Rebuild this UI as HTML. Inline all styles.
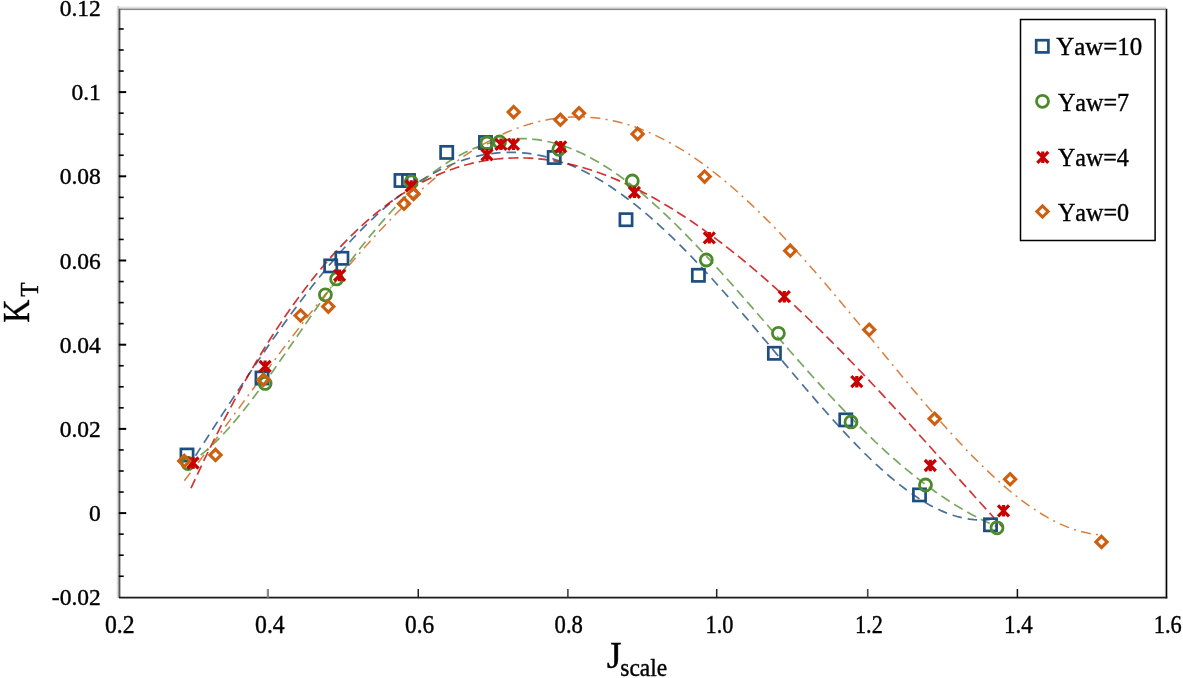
<!DOCTYPE html>
<html><head><meta charset="utf-8"><style>
html,body{margin:0;padding:0;background:#fff;width:1183px;height:678px;overflow:hidden}
svg{display:block;filter:blur(0.6px)}
text{font-family:"Liberation Serif",serif;font-kerning:none;fill:#000;stroke:#000;stroke-width:0.4px}
</style></head><body>
<svg width="1183" height="678" viewBox="0 0 1183 678">
<rect width="1183" height="678" fill="#fff"/>
<defs><linearGradient id="gl" x1="0" x2="1" y1="0" y2="0"><stop offset="0" stop-color="#fff"/><stop offset="1" stop-color="#b4b4b4"/></linearGradient><linearGradient id="gt" x1="0" x2="0" y1="0" y2="1"><stop offset="0" stop-color="#fff"/><stop offset="1" stop-color="#c4c4c4"/></linearGradient></defs>
<rect x="116" y="6" width="3.2" height="592" fill="url(#gl)"/>
<rect x="119" y="6" width="1047" height="3" fill="url(#gt)"/>
<rect x="119" y="8.8" width="1047.5" height="1.3" fill="#8a8a8a"/>
<rect x="118.6" y="8.8" width="1.8" height="589" fill="#5a5a5a"/>
<rect x="1165.7" y="8.8" width="1.6" height="589.5" fill="#000"/>
<rect x="1164.9" y="8.8" width="0.8" height="589.5" fill="#999"/>
<rect x="119" y="596.7" width="1048.3" height="1.8" fill="#1e1e1e"/>
<line x1="118.8" y1="576.25" x2="123.7" y2="576.25" stroke="#000" stroke-width="1.6"/>
<line x1="118.8" y1="555.20" x2="123.7" y2="555.20" stroke="#000" stroke-width="1.6"/>
<line x1="118.8" y1="534.15" x2="123.7" y2="534.15" stroke="#000" stroke-width="1.6"/>
<line x1="118.8" y1="513.10" x2="126.2" y2="513.10" stroke="#000" stroke-width="2.0"/>
<line x1="118.8" y1="492.05" x2="123.7" y2="492.05" stroke="#000" stroke-width="1.6"/>
<line x1="118.8" y1="471.00" x2="123.7" y2="471.00" stroke="#000" stroke-width="1.6"/>
<line x1="118.8" y1="449.95" x2="123.7" y2="449.95" stroke="#000" stroke-width="1.6"/>
<line x1="118.8" y1="428.90" x2="126.2" y2="428.90" stroke="#000" stroke-width="2.0"/>
<line x1="118.8" y1="407.85" x2="123.7" y2="407.85" stroke="#000" stroke-width="1.6"/>
<line x1="118.8" y1="386.80" x2="123.7" y2="386.80" stroke="#000" stroke-width="1.6"/>
<line x1="118.8" y1="365.75" x2="123.7" y2="365.75" stroke="#000" stroke-width="1.6"/>
<line x1="118.8" y1="344.70" x2="126.2" y2="344.70" stroke="#000" stroke-width="2.0"/>
<line x1="118.8" y1="323.65" x2="123.7" y2="323.65" stroke="#000" stroke-width="1.6"/>
<line x1="118.8" y1="302.60" x2="123.7" y2="302.60" stroke="#000" stroke-width="1.6"/>
<line x1="118.8" y1="281.55" x2="123.7" y2="281.55" stroke="#000" stroke-width="1.6"/>
<line x1="118.8" y1="260.50" x2="126.2" y2="260.50" stroke="#000" stroke-width="2.0"/>
<line x1="118.8" y1="239.45" x2="123.7" y2="239.45" stroke="#000" stroke-width="1.6"/>
<line x1="118.8" y1="218.40" x2="123.7" y2="218.40" stroke="#000" stroke-width="1.6"/>
<line x1="118.8" y1="197.35" x2="123.7" y2="197.35" stroke="#000" stroke-width="1.6"/>
<line x1="118.8" y1="176.30" x2="126.2" y2="176.30" stroke="#000" stroke-width="2.0"/>
<line x1="118.8" y1="155.25" x2="123.7" y2="155.25" stroke="#000" stroke-width="1.6"/>
<line x1="118.8" y1="134.20" x2="123.7" y2="134.20" stroke="#000" stroke-width="1.6"/>
<line x1="118.8" y1="113.15" x2="123.7" y2="113.15" stroke="#000" stroke-width="1.6"/>
<line x1="118.8" y1="92.10" x2="126.2" y2="92.10" stroke="#000" stroke-width="2.0"/>
<line x1="118.8" y1="71.05" x2="123.7" y2="71.05" stroke="#000" stroke-width="1.6"/>
<line x1="118.8" y1="50.00" x2="123.7" y2="50.00" stroke="#000" stroke-width="1.6"/>
<line x1="118.8" y1="28.95" x2="123.7" y2="28.95" stroke="#000" stroke-width="1.6"/>
<line x1="267.90" y1="597.6" x2="267.90" y2="589.0" stroke="#888" stroke-width="2.2"/>
<line x1="418.25" y1="597.6" x2="418.25" y2="589.0" stroke="#222" stroke-width="1.5"/>
<line x1="567.90" y1="597.6" x2="567.90" y2="589.0" stroke="#333" stroke-width="1.5"/>
<line x1="716.70" y1="597.6" x2="716.70" y2="589.0" stroke="#222" stroke-width="1.5"/>
<line x1="867.70" y1="597.6" x2="867.70" y2="589.0" stroke="#444" stroke-width="1.6"/>
<line x1="1017.40" y1="597.6" x2="1017.40" y2="589.0" stroke="#111" stroke-width="1.5"/>
<text x="100.8" y="605.3" text-anchor="end" font-size="23.5">-0.02</text>
<text x="100.8" y="521.1" text-anchor="end" font-size="23.5">0</text>
<text x="100.8" y="436.9" text-anchor="end" font-size="23.5">0.02</text>
<text x="100.8" y="352.7" text-anchor="end" font-size="23.5">0.04</text>
<text x="100.8" y="268.5" text-anchor="end" font-size="23.5">0.06</text>
<text x="100.8" y="184.3" text-anchor="end" font-size="23.5">0.08</text>
<text x="100.8" y="100.1" text-anchor="end" font-size="23.5">0.1</text>
<text x="100.8" y="15.9" text-anchor="end" font-size="23.5">0.12</text>
<text x="104.89" y="633.20" font-size="24.3" textLength="29.59" lengthAdjust="spacingAndGlyphs">0.2</text>
<text x="255.09" y="633.20" font-size="24.3" textLength="29.65" lengthAdjust="spacingAndGlyphs">0.4</text>
<text x="405.10" y="633.20" font-size="24.3" textLength="29.20" lengthAdjust="spacingAndGlyphs">0.6</text>
<text x="554.62" y="633.20" font-size="24.3" textLength="28.36" lengthAdjust="spacingAndGlyphs">0.8</text>
<text x="705.52" y="633.20" font-size="24.3" textLength="27.85" lengthAdjust="spacingAndGlyphs">1.0</text>
<text x="854.91" y="633.20" font-size="24.3" textLength="27.90" lengthAdjust="spacingAndGlyphs">1.2</text>
<text x="1004.07" y="633.20" font-size="24.3" textLength="28.66" lengthAdjust="spacingAndGlyphs">1.4</text>
<text x="1153.76" y="633.20" font-size="24.3" textLength="27.96" lengthAdjust="spacingAndGlyphs">1.6</text>
<text transform="translate(28.6,0) rotate(-90)" x="-322.64" y="0.00" font-size="38" textLength="23.21" lengthAdjust="spacingAndGlyphs">K</text>
<text transform="translate(38.0,0) rotate(-90)" x="-296.73" y="0.00" font-size="25" textLength="14.29" lengthAdjust="spacingAndGlyphs">T</text>
<text x="606.74" y="667.60" font-size="38" textLength="14.79" lengthAdjust="spacingAndGlyphs">J</text>
<text x="620.26" y="676.20" font-size="26" textLength="46.91" lengthAdjust="spacingAndGlyphs">scale</text>
<path d="M187.0,468.7 L191.0,462.6 L195.1,456.4 L199.1,450.1 L203.1,443.9 L207.2,437.7 L211.2,431.5 L215.2,425.3 L219.3,419.1 L223.3,412.9 L227.4,406.8 L231.4,400.6 L235.4,394.5 L239.5,388.4 L243.5,382.4 L247.5,376.3 L251.6,370.3 L255.6,364.4 L259.6,358.4 L263.7,352.6 L267.7,346.7 L271.7,340.9 L275.8,335.2 L279.8,329.5 L283.8,323.9 L287.9,318.3 L291.9,312.8 L295.9,307.4 L300.0,302.0 L304.0,296.7 L308.1,291.5 L312.1,286.3 L316.1,281.2 L320.2,276.2 L324.2,271.3 L328.2,266.4 L332.3,261.6 L336.3,256.9 L340.3,252.3 L344.4,247.8 L348.4,243.4 L352.4,239.0 L356.5,234.8 L360.5,230.7 L364.5,226.6 L368.6,222.6 L372.6,218.8 L376.7,215.0 L380.7,211.3 L384.7,207.8 L388.8,204.3 L392.8,201.0 L396.8,197.7 L400.9,194.6 L404.9,191.5 L408.9,188.6 L413.0,185.8 L417.0,183.1 L421.0,180.5 L425.1,178.0 L429.1,175.6 L433.1,173.4 L437.2,171.2 L441.2,169.2 L445.3,167.3 L449.3,165.5 L453.3,163.8 L457.4,162.2 L461.4,160.7 L465.4,159.4 L469.5,158.2 L473.5,157.1 L477.5,156.1 L481.6,155.2 L485.6,154.4 L489.6,153.8 L493.7,153.3 L497.7,152.8 L501.7,152.5 L505.8,152.4 L509.8,152.3 L513.8,152.4 L517.9,152.5 L521.9,152.8 L526.0,153.2 L530.0,153.7 L534.0,154.4 L538.1,155.1 L542.1,155.9 L546.1,156.9 L550.2,158.0 L554.2,159.2 L558.2,160.5 L562.3,161.9 L566.3,163.4 L570.3,165.0 L574.4,166.7 L578.4,168.5 L582.4,170.5 L586.5,172.5 L590.5,174.6 L594.6,176.9 L598.6,179.2 L602.6,181.6 L606.7,184.1 L610.7,186.8 L614.7,189.5 L618.8,192.3 L622.8,195.2 L626.8,198.2 L630.9,201.2 L634.9,204.4 L638.9,207.7 L643.0,211.0 L647.0,214.4 L651.0,217.9 L655.1,221.4 L659.1,225.1 L663.2,228.8 L667.2,232.6 L671.2,236.4 L675.3,240.3 L679.3,244.3 L683.3,248.4 L687.4,252.5 L691.4,256.7 L695.4,260.9 L699.5,265.2 L703.5,269.5 L707.5,273.9 L711.6,278.3 L715.6,282.8 L719.6,287.3 L723.7,291.8 L727.7,296.4 L731.7,301.1 L735.8,305.7 L739.8,310.4 L743.9,315.1 L747.9,319.8 L751.9,324.6 L756.0,329.4 L760.0,334.2 L764.0,339.0 L768.1,343.8 L772.1,348.6 L776.1,353.4 L780.2,358.2 L784.2,363.1 L788.2,367.9 L792.3,372.7 L796.3,377.5 L800.3,382.2 L804.4,387.0 L808.4,391.7 L812.5,396.4 L816.5,401.1 L820.5,405.7 L824.6,410.3 L828.6,414.9 L832.6,419.4 L836.7,423.9 L840.7,428.3 L844.7,432.7 L848.8,437.0 L852.8,441.2 L856.8,445.4 L860.9,449.5 L864.9,453.6 L868.9,457.5 L873.0,461.4 L877.0,465.2 L881.1,468.9 L885.1,472.5 L889.1,476.0 L893.2,479.4 L897.2,482.8 L901.2,485.9 L905.3,489.0 L909.3,492.0 L913.3,494.8 L917.4,497.5 L921.4,500.1 L925.4,502.6 L929.5,504.9 L933.5,507.0 L937.5,509.0 L941.6,510.9 L945.6,512.6 L949.6,514.1 L953.7,515.5 L957.7,516.7 L961.8,517.7 L965.8,518.5 L969.8,519.2 L973.9,519.7 L977.9,519.9 L981.9,520.0 L986.0,519.8 L990.0,519.5" fill="none" stroke="#1e4e80" stroke-width="1.7" stroke-opacity="0.8" stroke-dasharray="9.5 6"/>
<path d="M188.0,463.5 L192.1,461.1 L196.1,458.4 L200.2,455.4 L204.3,452.2 L208.3,448.7 L212.4,445.0 L216.5,441.1 L220.5,437.0 L224.6,432.7 L228.7,428.2 L232.7,423.6 L236.8,418.8 L240.8,413.8 L244.9,408.8 L249.0,403.6 L253.0,398.2 L257.1,392.8 L261.2,387.3 L265.2,381.8 L269.3,376.1 L273.4,370.4 L277.4,364.6 L281.5,358.8 L285.6,353.0 L289.6,347.1 L293.7,341.2 L297.8,335.3 L301.8,329.4 L305.9,323.5 L310.0,317.6 L314.0,311.8 L318.1,305.9 L322.2,300.1 L326.2,294.3 L330.3,288.6 L334.4,282.9 L338.4,277.3 L342.5,271.8 L346.5,266.3 L350.6,260.8 L354.7,255.5 L358.7,250.2 L362.8,245.0 L366.9,239.9 L370.9,235.0 L375.0,230.1 L379.1,225.3 L383.1,220.6 L387.2,216.0 L391.3,211.5 L395.3,207.1 L399.4,202.9 L403.5,198.8 L407.5,194.8 L411.6,190.9 L415.7,187.2 L419.7,183.5 L423.8,180.1 L427.9,176.7 L431.9,173.5 L436.0,170.4 L440.1,167.5 L444.1,164.7 L448.2,162.0 L452.2,159.5 L456.3,157.1 L460.4,154.9 L464.4,152.8 L468.5,150.8 L472.6,149.0 L476.6,147.4 L480.7,145.9 L484.8,144.5 L488.8,143.3 L492.9,142.2 L497.0,141.3 L501.0,140.5 L505.1,139.8 L509.2,139.3 L513.2,139.0 L517.3,138.7 L521.4,138.7 L525.4,138.7 L529.5,138.9 L533.6,139.3 L537.6,139.7 L541.7,140.4 L545.7,141.1 L549.8,142.0 L553.9,143.0 L557.9,144.1 L562.0,145.4 L566.1,146.8 L570.1,148.3 L574.2,149.9 L578.3,151.7 L582.3,153.6 L586.4,155.6 L590.5,157.7 L594.5,159.9 L598.6,162.3 L602.7,164.7 L606.7,167.3 L610.8,169.9 L614.9,172.7 L618.9,175.5 L623.0,178.5 L627.1,181.5 L631.1,184.7 L635.2,187.9 L639.3,191.2 L643.3,194.6 L647.4,198.1 L651.4,201.7 L655.5,205.3 L659.6,209.0 L663.6,212.8 L667.7,216.6 L671.8,220.6 L675.8,224.5 L679.9,228.6 L684.0,232.7 L688.0,236.8 L692.1,241.1 L696.2,245.3 L700.2,249.6 L704.3,254.0 L708.4,258.4 L712.4,262.8 L716.5,267.3 L720.6,271.8 L724.6,276.3 L728.7,280.8 L732.8,285.4 L736.8,290.0 L740.9,294.6 L744.9,299.3 L749.0,303.9 L753.1,308.6 L757.1,313.3 L761.2,318.0 L765.3,322.6 L769.3,327.3 L773.4,332.0 L777.5,336.7 L781.5,341.3 L785.6,346.0 L789.7,350.7 L793.7,355.3 L797.8,359.9 L801.9,364.5 L805.9,369.1 L810.0,373.6 L814.1,378.2 L818.1,382.7 L822.2,387.1 L826.3,391.6 L830.3,396.0 L834.4,400.3 L838.5,404.6 L842.5,408.9 L846.6,413.2 L850.6,417.4 L854.7,421.5 L858.8,425.6 L862.8,429.7 L866.9,433.7 L871.0,437.6 L875.0,441.5 L879.1,445.3 L883.2,449.1 L887.2,452.8 L891.3,456.5 L895.4,460.0 L899.4,463.6 L903.5,467.0 L907.6,470.4 L911.6,473.7 L915.7,477.0 L919.8,480.2 L923.8,483.3 L927.9,486.4 L932.0,489.3 L936.0,492.2 L940.1,495.1 L944.2,497.8 L948.2,500.5 L952.3,503.1 L956.3,505.6 L960.4,508.1 L964.5,510.4 L968.5,512.7 L972.6,515.0 L976.7,517.1 L980.7,519.2 L984.8,521.2 L988.9,523.1 L992.9,524.9 L997.0,526.7" fill="none" stroke="#4b8a2a" stroke-width="1.7" stroke-opacity="0.75" stroke-dasharray="10 5.3"/>
<path d="M191.0,488.2 L195.1,479.3 L199.2,470.6 L203.2,461.9 L207.3,453.5 L211.4,445.1 L215.5,436.9 L219.6,428.8 L223.6,420.8 L227.7,413.0 L231.8,405.3 L235.9,397.7 L240.0,390.2 L244.0,382.9 L248.1,375.7 L252.2,368.7 L256.3,361.8 L260.4,355.0 L264.4,348.3 L268.5,341.7 L272.6,335.3 L276.7,329.0 L280.8,322.9 L284.8,316.8 L288.9,310.9 L293.0,305.1 L297.1,299.4 L301.2,293.9 L305.3,288.5 L309.3,283.2 L313.4,278.0 L317.5,272.9 L321.6,268.0 L325.7,263.2 L329.7,258.5 L333.8,253.9 L337.9,249.4 L342.0,245.1 L346.1,240.9 L350.1,236.8 L354.2,232.8 L358.3,228.9 L362.4,225.1 L366.5,221.4 L370.5,217.9 L374.6,214.5 L378.7,211.1 L382.8,207.9 L386.9,204.8 L390.9,201.8 L395.0,198.9 L399.1,196.1 L403.2,193.4 L407.3,190.9 L411.3,188.4 L415.4,186.0 L419.5,183.8 L423.6,181.6 L427.7,179.5 L431.7,177.6 L435.8,175.7 L439.9,173.9 L444.0,172.3 L448.1,170.7 L452.1,169.2 L456.2,167.8 L460.3,166.5 L464.4,165.3 L468.5,164.2 L472.5,163.2 L476.6,162.3 L480.7,161.5 L484.8,160.7 L488.9,160.1 L492.9,159.5 L497.0,159.0 L501.1,158.6 L505.2,158.3 L509.3,158.1 L513.4,158.0 L517.4,157.9 L521.5,157.9 L525.6,158.0 L529.7,158.2 L533.8,158.5 L537.8,158.8 L541.9,159.2 L546.0,159.7 L550.1,160.3 L554.2,160.9 L558.2,161.7 L562.3,162.5 L566.4,163.3 L570.5,164.3 L574.6,165.3 L578.6,166.4 L582.7,167.5 L586.8,168.7 L590.9,170.0 L595.0,171.4 L599.0,172.8 L603.1,174.3 L607.2,175.8 L611.3,177.5 L615.4,179.1 L619.4,180.9 L623.5,182.7 L627.6,184.6 L631.7,186.5 L635.8,188.5 L639.8,190.5 L643.9,192.7 L648.0,194.8 L652.1,197.0 L656.2,199.3 L660.2,201.7 L664.3,204.1 L668.4,206.5 L672.5,209.0 L676.6,211.6 L680.6,214.2 L684.7,216.8 L688.8,219.5 L692.9,222.3 L697.0,225.1 L701.1,228.0 L705.1,230.9 L709.2,233.9 L713.3,236.9 L717.4,239.9 L721.5,243.0 L725.5,246.2 L729.6,249.3 L733.7,252.6 L737.8,255.8 L741.9,259.2 L745.9,262.5 L750.0,265.9 L754.1,269.4 L758.2,272.9 L762.3,276.4 L766.3,279.9 L770.4,283.5 L774.5,287.2 L778.6,290.9 L782.7,294.6 L786.7,298.3 L790.8,302.1 L794.9,305.9 L799.0,309.8 L803.1,313.6 L807.1,317.5 L811.2,321.5 L815.3,325.5 L819.4,329.5 L823.5,333.5 L827.5,337.6 L831.6,341.7 L835.7,345.8 L839.8,349.9 L843.9,354.1 L847.9,358.3 L852.0,362.5 L856.1,366.8 L860.2,371.0 L864.3,375.3 L868.3,379.6 L872.4,384.0 L876.5,388.3 L880.6,392.7 L884.7,397.1 L888.7,401.5 L892.8,405.9 L896.9,410.3 L901.0,414.8 L905.1,419.2 L909.2,423.7 L913.2,428.2 L917.3,432.7 L921.4,437.2 L925.5,441.7 L929.6,446.2 L933.6,450.8 L937.7,455.3 L941.8,459.8 L945.9,464.4 L950.0,468.9 L954.0,473.5 L958.1,478.0 L962.2,482.6 L966.3,487.1 L970.4,491.6 L974.4,496.2 L978.5,500.7 L982.6,505.2 L986.7,509.7 L990.8,514.2 L994.8,518.7 L998.9,523.2 L1003.0,527.7" fill="none" stroke="#c80000" stroke-width="1.7" stroke-opacity="0.8" stroke-dasharray="10 5"/>
<path d="M184.3,480.7 L188.9,474.7 L193.5,468.7 L198.1,462.7 L202.7,456.6 L207.3,450.5 L212.0,444.3 L216.6,438.2 L221.2,432.0 L225.8,425.8 L230.4,419.6 L235.0,413.4 L239.6,407.2 L244.2,400.9 L248.8,394.7 L253.4,388.5 L258.0,382.3 L262.7,376.1 L267.3,369.9 L271.9,363.7 L276.5,357.6 L281.1,351.4 L285.7,345.3 L290.3,339.2 L294.9,333.2 L299.5,327.2 L304.1,321.2 L308.7,315.3 L313.4,309.4 L318.0,303.5 L322.6,297.7 L327.2,292.0 L331.8,286.3 L336.4,280.6 L341.0,275.0 L345.6,269.5 L350.2,264.1 L354.8,258.7 L359.4,253.4 L364.1,248.1 L368.7,242.9 L373.3,237.8 L377.9,232.8 L382.5,227.9 L387.1,223.0 L391.7,218.3 L396.3,213.6 L400.9,209.0 L405.5,204.5 L410.1,200.1 L414.8,195.8 L419.4,191.6 L424.0,187.5 L428.6,183.5 L433.2,179.6 L437.8,175.7 L442.4,172.1 L447.0,168.5 L451.6,165.0 L456.2,161.6 L460.8,158.4 L465.5,155.2 L470.1,152.2 L474.7,149.3 L479.3,146.5 L483.9,143.9 L488.5,141.3 L493.1,138.9 L497.7,136.6 L502.3,134.4 L506.9,132.3 L511.5,130.4 L516.2,128.6 L520.8,126.9 L525.4,125.4 L530.0,124.0 L534.6,122.7 L539.2,121.5 L543.8,120.5 L548.4,119.6 L553.0,118.8 L557.6,118.2 L562.2,117.7 L566.9,117.3 L571.5,117.0 L576.1,116.9 L580.7,116.9 L585.3,117.1 L589.9,117.4 L594.5,117.8 L599.1,118.3 L603.7,119.0 L608.3,119.8 L612.9,120.7 L617.6,121.8 L622.2,123.0 L626.8,124.3 L631.4,125.8 L636.0,127.3 L640.6,129.0 L645.2,130.9 L649.8,132.8 L654.4,134.9 L659.0,137.1 L663.6,139.4 L668.2,141.8 L672.9,144.4 L677.5,147.1 L682.1,149.8 L686.7,152.7 L691.3,155.8 L695.9,158.9 L700.5,162.1 L705.1,165.5 L709.7,168.9 L714.3,172.5 L718.9,176.1 L723.6,179.9 L728.2,183.7 L732.8,187.7 L737.4,191.7 L742.0,195.9 L746.6,200.1 L751.2,204.4 L755.8,208.8 L760.4,213.3 L765.0,217.9 L769.6,222.5 L774.3,227.2 L778.9,232.0 L783.5,236.9 L788.1,241.8 L792.7,246.8 L797.3,251.9 L801.9,257.0 L806.5,262.1 L811.1,267.4 L815.7,272.6 L820.3,278.0 L825.0,283.3 L829.6,288.7 L834.2,294.2 L838.8,299.6 L843.4,305.2 L848.0,310.7 L852.6,316.2 L857.2,321.8 L861.8,327.4 L866.4,333.0 L871.0,338.6 L875.7,344.2 L880.3,349.8 L884.9,355.5 L889.5,361.1 L894.1,366.7 L898.7,372.2 L903.3,377.8 L907.9,383.3 L912.5,388.9 L917.1,394.3 L921.7,399.8 L926.4,405.2 L931.0,410.5 L935.6,415.9 L940.2,421.1 L944.8,426.3 L949.4,431.4 L954.0,436.5 L958.6,441.5 L963.2,446.4 L967.8,451.3 L972.4,456.1 L977.1,460.7 L981.7,465.3 L986.3,469.8 L990.9,474.1 L995.5,478.4 L1000.1,482.6 L1004.7,486.6 L1009.3,490.5 L1013.9,494.3 L1018.5,497.9 L1023.1,501.4 L1027.8,504.8 L1032.4,508.0 L1037.0,511.1 L1041.6,514.0 L1046.2,516.7 L1050.8,519.3 L1055.4,521.7 L1060.0,523.9 L1064.6,525.9 L1069.2,527.7 L1073.8,529.4 L1078.5,530.8 L1083.1,532.0 L1087.7,533.1 L1092.3,533.9 L1096.9,534.5 L1101.5,534.8" fill="none" stroke="#cd5f0f" stroke-width="1.5" stroke-opacity="0.8" stroke-dasharray="10 5.3 2 5.3"/>
<rect x="180.9" y="448.9" width="12.2" height="12.2" fill="none" stroke="#1e4e80" stroke-width="2.7"/>
<rect x="255.9" y="371.9" width="12.2" height="12.2" fill="none" stroke="#1e4e80" stroke-width="2.7"/>
<rect x="324.6" y="259.8" width="12.2" height="12.2" fill="none" stroke="#1e4e80" stroke-width="2.7"/>
<rect x="335.8" y="252.2" width="12.2" height="12.2" fill="none" stroke="#1e4e80" stroke-width="2.7"/>
<rect x="394.9" y="174.4" width="12.2" height="12.2" fill="none" stroke="#1e4e80" stroke-width="2.7"/>
<rect x="402.4" y="174.4" width="12.2" height="12.2" fill="none" stroke="#1e4e80" stroke-width="2.7"/>
<rect x="440.6" y="146.3" width="12.2" height="12.2" fill="none" stroke="#1e4e80" stroke-width="2.7"/>
<rect x="479.4" y="136.4" width="12.2" height="12.2" fill="none" stroke="#1e4e80" stroke-width="2.7"/>
<rect x="548.1" y="151.4" width="12.2" height="12.2" fill="none" stroke="#1e4e80" stroke-width="2.7"/>
<rect x="619.9" y="213.6" width="12.2" height="12.2" fill="none" stroke="#1e4e80" stroke-width="2.7"/>
<rect x="692.3" y="269.2" width="12.2" height="12.2" fill="none" stroke="#1e4e80" stroke-width="2.7"/>
<rect x="768.3" y="347.2" width="12.2" height="12.2" fill="none" stroke="#1e4e80" stroke-width="2.7"/>
<rect x="839.7" y="413.8" width="12.2" height="12.2" fill="none" stroke="#1e4e80" stroke-width="2.7"/>
<rect x="913.4" y="488.8" width="12.2" height="12.2" fill="none" stroke="#1e4e80" stroke-width="2.7"/>
<rect x="984.4" y="518.7" width="12.2" height="12.2" fill="none" stroke="#1e4e80" stroke-width="2.7"/>
<circle cx="188.0" cy="463.5" r="6.0" fill="none" stroke="#4b8a2a" stroke-width="2.8"/>
<circle cx="265.1" cy="383.4" r="6.0" fill="none" stroke="#4b8a2a" stroke-width="2.8"/>
<circle cx="325.4" cy="294.8" r="6.0" fill="none" stroke="#4b8a2a" stroke-width="2.8"/>
<circle cx="336.6" cy="278.9" r="6.0" fill="none" stroke="#4b8a2a" stroke-width="2.8"/>
<circle cx="411.2" cy="181.9" r="6.0" fill="none" stroke="#4b8a2a" stroke-width="2.8"/>
<circle cx="487.0" cy="143.0" r="6.0" fill="none" stroke="#4b8a2a" stroke-width="2.8"/>
<circle cx="499.5" cy="142.0" r="6.0" fill="none" stroke="#4b8a2a" stroke-width="2.8"/>
<circle cx="558.9" cy="149.3" r="6.0" fill="none" stroke="#4b8a2a" stroke-width="2.8"/>
<circle cx="632.3" cy="181.0" r="6.0" fill="none" stroke="#4b8a2a" stroke-width="2.8"/>
<circle cx="706.3" cy="260.0" r="6.0" fill="none" stroke="#4b8a2a" stroke-width="2.8"/>
<circle cx="778.4" cy="333.3" r="6.0" fill="none" stroke="#4b8a2a" stroke-width="2.8"/>
<circle cx="851.0" cy="421.9" r="6.0" fill="none" stroke="#4b8a2a" stroke-width="2.8"/>
<circle cx="925.5" cy="485.0" r="6.0" fill="none" stroke="#4b8a2a" stroke-width="2.8"/>
<circle cx="997.0" cy="527.8" r="6.0" fill="none" stroke="#4b8a2a" stroke-width="2.8"/>
<path d="M187.5,457.5 L198.5,468.5 M198.5,457.5 L187.5,468.5 M193.0,457.2 L193.0,468.8" stroke="#c80000" stroke-width="3.2" fill="none"/>
<path d="M259.6,360.8 L270.6,371.8 M270.6,360.8 L259.6,371.8 M265.1,360.5 L265.1,372.1" stroke="#c80000" stroke-width="3.2" fill="none"/>
<path d="M334.1,269.9 L345.1,280.9 M345.1,269.9 L334.1,280.9 M339.6,269.6 L339.6,281.2" stroke="#c80000" stroke-width="3.2" fill="none"/>
<path d="M405.7,180.5 L416.7,191.5 M416.7,180.5 L405.7,191.5 M411.2,180.2 L411.2,191.8" stroke="#c80000" stroke-width="3.2" fill="none"/>
<path d="M481.5,149.3 L492.5,160.3 M492.5,149.3 L481.5,160.3 M487.0,149.0 L487.0,160.6" stroke="#c80000" stroke-width="3.2" fill="none"/>
<path d="M495.5,138.8 L506.5,149.8 M506.5,138.8 L495.5,149.8 M501.0,138.5 L501.0,150.1" stroke="#c80000" stroke-width="3.2" fill="none"/>
<path d="M508.0,138.8 L519.0,149.8 M519.0,138.8 L508.0,149.8 M513.5,138.5 L513.5,150.1" stroke="#c80000" stroke-width="3.2" fill="none"/>
<path d="M555.2,141.4 L566.2,152.4 M566.2,141.4 L555.2,152.4 M560.7,141.1 L560.7,152.7" stroke="#c80000" stroke-width="3.2" fill="none"/>
<path d="M628.9,186.8 L639.9,197.8 M639.9,186.8 L628.9,197.8 M634.4,186.5 L634.4,198.1" stroke="#c80000" stroke-width="3.2" fill="none"/>
<path d="M703.8,232.3 L714.8,243.3 M714.8,232.3 L703.8,243.3 M709.3,232.0 L709.3,243.6" stroke="#c80000" stroke-width="3.2" fill="none"/>
<path d="M778.8,291.2 L789.8,302.2 M789.8,291.2 L778.8,302.2 M784.3,290.9 L784.3,302.5" stroke="#c80000" stroke-width="3.2" fill="none"/>
<path d="M851.3,376.2 L862.3,387.2 M862.3,376.2 L851.3,387.2 M856.8,375.9 L856.8,387.5" stroke="#c80000" stroke-width="3.2" fill="none"/>
<path d="M924.8,460.0 L935.8,471.0 M935.8,460.0 L924.8,471.0 M930.3,459.7 L930.3,471.3" stroke="#c80000" stroke-width="3.2" fill="none"/>
<path d="M998.0,505.3 L1009.0,516.3 M1009.0,505.3 L998.0,516.3 M1003.5,505.0 L1003.5,516.6" stroke="#c80000" stroke-width="3.2" fill="none"/>
<path d="M184.3,455.3 L189.9,460.9 L184.3,466.5 L178.7,460.9 Z" fill="none" stroke="#cd5f0f" stroke-width="3.1"/>
<path d="M215.5,449.3 L221.1,454.9 L215.5,460.5 L209.9,454.9 Z" fill="none" stroke="#cd5f0f" stroke-width="3.1"/>
<path d="M263.5,374.1 L269.1,379.7 L263.5,385.3 L257.9,379.7 Z" fill="none" stroke="#cd5f0f" stroke-width="3.1"/>
<path d="M300.6,309.9 L306.2,315.5 L300.6,321.1 L295.0,315.5 Z" fill="none" stroke="#cd5f0f" stroke-width="3.1"/>
<path d="M328.3,301.0 L333.9,306.6 L328.3,312.2 L322.7,306.6 Z" fill="none" stroke="#cd5f0f" stroke-width="3.1"/>
<path d="M404.0,198.2 L409.6,203.8 L404.0,209.4 L398.4,203.8 Z" fill="none" stroke="#cd5f0f" stroke-width="3.1"/>
<path d="M413.6,188.4 L419.2,194.0 L413.6,199.6 L408.0,194.0 Z" fill="none" stroke="#cd5f0f" stroke-width="3.1"/>
<path d="M513.7,106.5 L519.3,112.1 L513.7,117.7 L508.1,112.1 Z" fill="none" stroke="#cd5f0f" stroke-width="3.1"/>
<path d="M560.4,114.2 L566.0,119.8 L560.4,125.4 L554.8,119.8 Z" fill="none" stroke="#cd5f0f" stroke-width="3.1"/>
<path d="M579.0,107.7 L584.6,113.3 L579.0,118.9 L573.4,113.3 Z" fill="none" stroke="#cd5f0f" stroke-width="3.1"/>
<path d="M637.6,128.3 L643.2,133.9 L637.6,139.5 L632.0,133.9 Z" fill="none" stroke="#cd5f0f" stroke-width="3.1"/>
<path d="M704.6,171.0 L710.2,176.6 L704.6,182.2 L699.0,176.6 Z" fill="none" stroke="#cd5f0f" stroke-width="3.1"/>
<path d="M790.2,245.1 L795.8,250.7 L790.2,256.3 L784.6,250.7 Z" fill="none" stroke="#cd5f0f" stroke-width="3.1"/>
<path d="M869.2,324.1 L874.8,329.7 L869.2,335.3 L863.6,329.7 Z" fill="none" stroke="#cd5f0f" stroke-width="3.1"/>
<path d="M934.6,413.2 L940.2,418.8 L934.6,424.4 L929.0,418.8 Z" fill="none" stroke="#cd5f0f" stroke-width="3.1"/>
<path d="M1010.1,473.7 L1015.7,479.3 L1010.1,484.9 L1004.5,479.3 Z" fill="none" stroke="#cd5f0f" stroke-width="3.1"/>
<path d="M1101.5,536.3 L1107.1,541.9 L1101.5,547.5 L1095.9,541.9 Z" fill="none" stroke="#cd5f0f" stroke-width="3.1"/>
<rect x="1020.5" y="19.5" width="134.6" height="221" fill="#fff" stroke="#000" stroke-width="1.5"/>
<rect x="1036.2" y="40.2" width="12.2" height="12.2" fill="none" stroke="#1e4e80" stroke-width="2.7"/>
<circle cx="1042.5" cy="101.3" r="6.0" fill="none" stroke="#4b8a2a" stroke-width="2.8"/>
<path d="M1037.3,151.8 L1048.3,162.8 M1048.3,151.8 L1037.3,162.8 M1042.8,151.5 L1042.8,163.1" stroke="#c80000" stroke-width="3.2" fill="none"/>
<path d="M1042.5,205.9 L1048.1,211.5 L1042.5,217.1 L1036.9,211.5 Z" fill="none" stroke="#cd5f0f" stroke-width="3.1"/>
<text x="1056.25" y="55.40" font-size="26" textLength="86.05" lengthAdjust="spacingAndGlyphs">Yaw=10</text>
<text x="1057.96" y="110.70" font-size="26" textLength="71.18" lengthAdjust="spacingAndGlyphs">Yaw=7</text>
<text x="1057.96" y="166.00" font-size="26" textLength="70.93" lengthAdjust="spacingAndGlyphs">Yaw=4</text>
<text x="1057.96" y="221.20" font-size="26" textLength="71.12" lengthAdjust="spacingAndGlyphs">Yaw=0</text>
</svg>
</body></html>
